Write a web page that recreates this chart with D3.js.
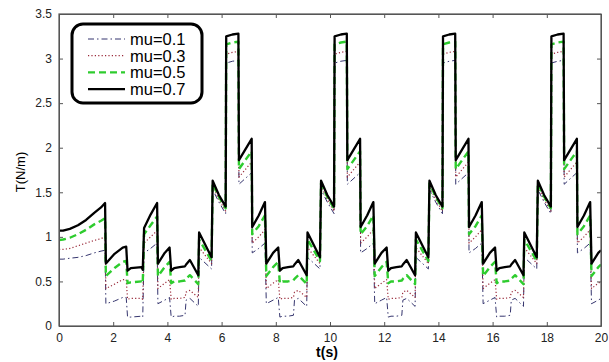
<!DOCTYPE html>
<html>
<head>
<meta charset="utf-8">
<script src="https://cdn.jsdelivr.net/npm/d3@7"></script>
<style>
  body { margin: 0; background: #fff; }
  svg { display: block; font-family: "Liberation Sans", Arial, sans-serif; }
  .axis path, .axis line { stroke: #555; }
  .axis text { fill: #222; font-size: 12px; }
</style>
</head>
<body>
<svg width="609" height="362"></svg>
<script>
// time (s)
const timeS = [
  0.00, 0.15, 0.40, 0.70, 1.00, 1.30, 1.55, 1.70, 1.73, 2.05, 2.35, 2.48, 2.53, 2.65, 3.05, 3.09,
  3.14, 3.38, 3.62, 3.65, 3.90, 4.08, 4.14, 4.25, 4.45, 4.65, 4.69, 4.83, 5.14, 5.17, 5.63,
  5.67, 5.90, 6.15, 6.17, 6.40, 6.62, 6.64, 7.11, 7.13, 7.37, 7.60, 7.65, 7.90, 8.09, 8.15, 8.25,
  8.45, 8.65, 8.69, 8.83, 9.14, 9.17, 9.63,
  9.67, 9.90, 10.15, 10.17, 10.40, 10.62, 10.64, 11.11, 11.13, 11.37, 11.60, 11.65, 11.90, 12.09, 12.15, 12.25,
  12.45, 12.65, 12.69, 12.83, 13.14, 13.17, 13.63,
  13.67, 13.90, 14.15, 14.17, 14.40, 14.62, 14.64, 15.11, 15.13, 15.37, 15.60, 15.65, 15.90, 16.09, 16.15, 16.25,
  16.45, 16.65, 16.69, 16.83, 17.14, 17.17, 17.63,
  17.67, 17.90, 18.15, 18.17, 18.40, 18.62, 18.64, 19.11, 19.13, 19.37, 19.60, 19.65, 19.90, 20.00
];

// T (N/m) for each mu
const mu07 = [
  1.07, 1.07, 1.09, 1.13, 1.19, 1.27, 1.33, 1.38, 0.70, 0.81, 0.88, 0.89, 0.62, 0.65, 0.66, 0.63,
  1.10, 1.25, 1.38, 0.70, 0.82, 0.88, 0.62, 0.65, 0.66, 0.67, 0.69, 0.74, 0.57, 1.05, 0.77,
  1.63, 1.47, 1.34, 3.25, 3.27, 3.28, 1.86, 2.10, 1.11, 1.24, 1.39, 0.70, 0.82, 0.88, 0.62, 0.65,
  0.66, 0.67, 0.69, 0.74, 0.57, 1.05, 0.77,
  1.63, 1.47, 1.34, 3.25, 3.27, 3.28, 1.86, 2.10, 1.11, 1.24, 1.39, 0.70, 0.82, 0.88, 0.62, 0.65,
  0.66, 0.67, 0.69, 0.74, 0.57, 1.05, 0.77,
  1.63, 1.47, 1.34, 3.25, 3.27, 3.28, 1.86, 2.10, 1.11, 1.24, 1.39, 0.70, 0.82, 0.88, 0.62, 0.65,
  0.66, 0.67, 0.69, 0.74, 0.57, 1.05, 0.77,
  1.63, 1.47, 1.34, 3.25, 3.27, 3.28, 1.86, 2.10, 1.11, 1.24, 1.39, 0.70, 0.82, 0.85
];
const mu05 = [
  0.965, 0.97, 0.99, 1.03, 1.08, 1.14, 1.18, 1.21, 0.56, 0.65, 0.72, 0.73, 0.48, 0.49, 0.50, 0.48,
  1.03, 1.13, 1.23, 0.56, 0.66, 0.72, 0.48, 0.50, 0.50, 0.51, 0.53, 0.57, 0.47, 0.97, 0.73,
  1.60, 1.45, 1.32, 3.16, 3.18, 3.19, 1.76, 1.96, 1.03, 1.12, 1.24, 0.56, 0.66, 0.72, 0.48, 0.50,
  0.50, 0.51, 0.53, 0.57, 0.47, 0.97, 0.73,
  1.60, 1.45, 1.32, 3.16, 3.18, 3.19, 1.76, 1.96, 1.03, 1.12, 1.24, 0.56, 0.66, 0.72, 0.48, 0.50,
  0.50, 0.51, 0.53, 0.57, 0.47, 0.97, 0.73,
  1.60, 1.45, 1.32, 3.16, 3.18, 3.19, 1.76, 1.96, 1.03, 1.12, 1.24, 0.56, 0.66, 0.72, 0.48, 0.50,
  0.50, 0.51, 0.53, 0.57, 0.47, 0.97, 0.73,
  1.60, 1.45, 1.32, 3.16, 3.18, 3.19, 1.76, 1.96, 1.03, 1.12, 1.24, 0.56, 0.66, 0.69
];
const mu03 = [
  0.86, 0.86, 0.87, 0.90, 0.93, 0.96, 0.98, 1.00, 0.42, 0.47, 0.52, 0.52, 0.30, 0.31, 0.31, 0.30,
  0.93, 1.00, 1.07, 0.42, 0.48, 0.52, 0.30, 0.31, 0.31, 0.32, 0.38, 0.40, 0.32, 0.88, 0.70,
  1.57, 1.42, 1.29, 3.05, 3.07, 3.08, 1.67, 1.84, 0.93, 1.00, 1.08, 0.42, 0.48, 0.52, 0.30, 0.31,
  0.31, 0.32, 0.38, 0.40, 0.32, 0.88, 0.70,
  1.57, 1.42, 1.29, 3.05, 3.07, 3.08, 1.67, 1.84, 0.93, 1.00, 1.08, 0.42, 0.48, 0.52, 0.30, 0.31,
  0.31, 0.32, 0.38, 0.40, 0.32, 0.88, 0.70,
  1.57, 1.42, 1.29, 3.05, 3.07, 3.08, 1.67, 1.84, 0.93, 1.00, 1.08, 0.42, 0.48, 0.52, 0.30, 0.31,
  0.31, 0.32, 0.38, 0.40, 0.32, 0.88, 0.70,
  1.57, 1.42, 1.29, 3.05, 3.07, 3.08, 1.67, 1.84, 0.93, 1.00, 1.08, 0.42, 0.48, 0.50
];
const mu01 = [
  0.75, 0.75, 0.76, 0.77, 0.79, 0.82, 0.84, 0.85, 0.25, 0.28, 0.32, 0.32, 0.10, 0.10, 0.11, 0.10,
  0.82, 0.87, 0.93, 0.25, 0.29, 0.32, 0.10, 0.11, 0.11, 0.12, 0.29, 0.31, 0.22, 0.77, 0.64,
  1.53, 1.39, 1.26, 2.95, 2.97, 2.98, 1.59, 1.72, 0.82, 0.87, 0.93, 0.25, 0.29, 0.32, 0.10, 0.11,
  0.11, 0.12, 0.29, 0.31, 0.22, 0.77, 0.64,
  1.53, 1.39, 1.26, 2.95, 2.97, 2.98, 1.59, 1.72, 0.82, 0.87, 0.93, 0.25, 0.29, 0.32, 0.10, 0.11,
  0.11, 0.12, 0.29, 0.31, 0.22, 0.77, 0.64,
  1.53, 1.39, 1.26, 2.95, 2.97, 2.98, 1.59, 1.72, 0.82, 0.87, 0.93, 0.25, 0.29, 0.32, 0.10, 0.11,
  0.11, 0.12, 0.29, 0.31, 0.22, 0.77, 0.64,
  1.53, 1.39, 1.26, 2.95, 2.97, 2.98, 1.59, 1.72, 0.82, 0.87, 0.93, 0.25, 0.29, 0.31
];

const seriesNames = ['mu=0.1', 'mu=0.3', 'mu=0.5', 'mu=0.7'];
const seriesValues = [mu01, mu03, mu05, mu07];
const xTicks = [0, 2, 4, 6, 8, 10, 12, 14, 16, 18, 20];
const yTicks = [0, 0.5, 1, 1.5, 2, 2.5, 3, 3.5];

const styles = [
  { color: '#35356e', width: 1, dash: '6,3,1.5,3' },
  { color: '#9a2a3a', width: 1.2, dash: '1.2,2.2' },
  { color: '#2ecc2e', width: 2.4, dash: '7,4' },
  { color: '#000', width: 2.3, dash: null }
];

const margin = { top: 14, right: 8, bottom: 36, left: 59 };
const width = 609 - margin.left - margin.right;
const height = 362 - margin.top - margin.bottom;

const svg = d3.select('svg')
  .append('g')
  .attr('transform', 'translate(' + margin.left + ',' + margin.top + ')');

const x = d3.scaleLinear().domain([0, 20]).range([0, width]);
const y = d3.scaleLinear().domain([0, 3.5]).range([height, 0]);

svg.append('defs').append('clipPath').attr('id', 'clip')
  .append('rect').attr('width', width).attr('height', height);

// curves
const line = d3.line()
  .x((d, i) => x(timeS[i]))
  .y(d => y(d));

seriesValues.forEach((vals, k) => {
  svg.append('path')
    .datum(vals)
    .attr('clip-path', 'url(#clip)')
    .attr('fill', 'none')
    .attr('stroke', styles[k].color)
    .attr('stroke-width', styles[k].width)
    .attr('stroke-dasharray', styles[k].dash)
    .attr('stroke-linejoin', 'round')
    .attr('d', line);
});

// axes, inward ticks all round
svg.append('g')
  .attr('class', 'axis')
  .attr('transform', 'translate(0,' + height + ')')
  .call(d3.axisBottom(x).tickValues(xTicks).tickSizeInner(-4).tickSizeOuter(0).tickPadding(7));

svg.append('g')
  .attr('class', 'axis')
  .call(d3.axisLeft(y).tickValues(yTicks).tickFormat(d3.format('')).tickSizeInner(-4).tickSizeOuter(0).tickPadding(7));

svg.append('g')
  .attr('class', 'axis')
  .call(d3.axisTop(x).tickValues(xTicks).tickFormat('').tickSizeInner(-4).tickSizeOuter(0));

svg.append('g')
  .attr('class', 'axis')
  .attr('transform', 'translate(' + width + ',0)')
  .call(d3.axisRight(y).tickValues(yTicks).tickFormat('').tickSizeInner(-4).tickSizeOuter(0));

svg.append('rect')
  .attr('width', width)
  .attr('height', height)
  .attr('fill', 'none')
  .attr('stroke', '#555')
  .attr('stroke-width', 1.2);

// axis titles
svg.append('text')
  .attr('x', width / 2 - 3)
  .attr('y', height + 31)
  .attr('text-anchor', 'middle')
  .style('font-size', '14px')
  .style('font-weight', 'bold')
  .text('t(s)');

svg.append('text')
  .attr('transform', 'rotate(-90)')
  .attr('x', -height / 2 - 2)
  .attr('y', -34)
  .attr('text-anchor', 'middle')
  .style('font-size', '13px')
  .text('T(N/m)');

// legend
const legend = svg.append('g').attr('transform', 'translate(13,10)');
legend.append('rect')
  .attr('width', 130)
  .attr('height', 79)
  .attr('rx', 11)
  .attr('fill', '#fff')
  .attr('stroke', '#000')
  .attr('stroke-width', 3);

seriesNames.forEach((name, k) => {
  const ly = 15 + k * 16.7;
  legend.append('line')
    .attr('x1', 16).attr('x2', 53)
    .attr('y1', ly).attr('y2', ly)
    .attr('stroke', styles[k].color)
    .attr('stroke-width', styles[k].width)
    .attr('stroke-dasharray', styles[k].dash);
  legend.append('text')
    .attr('x', 58)
    .attr('y', ly + 6)
    .style('font-size', '16.5px')
    .text(name);
});
</script>
</body>
</html>
